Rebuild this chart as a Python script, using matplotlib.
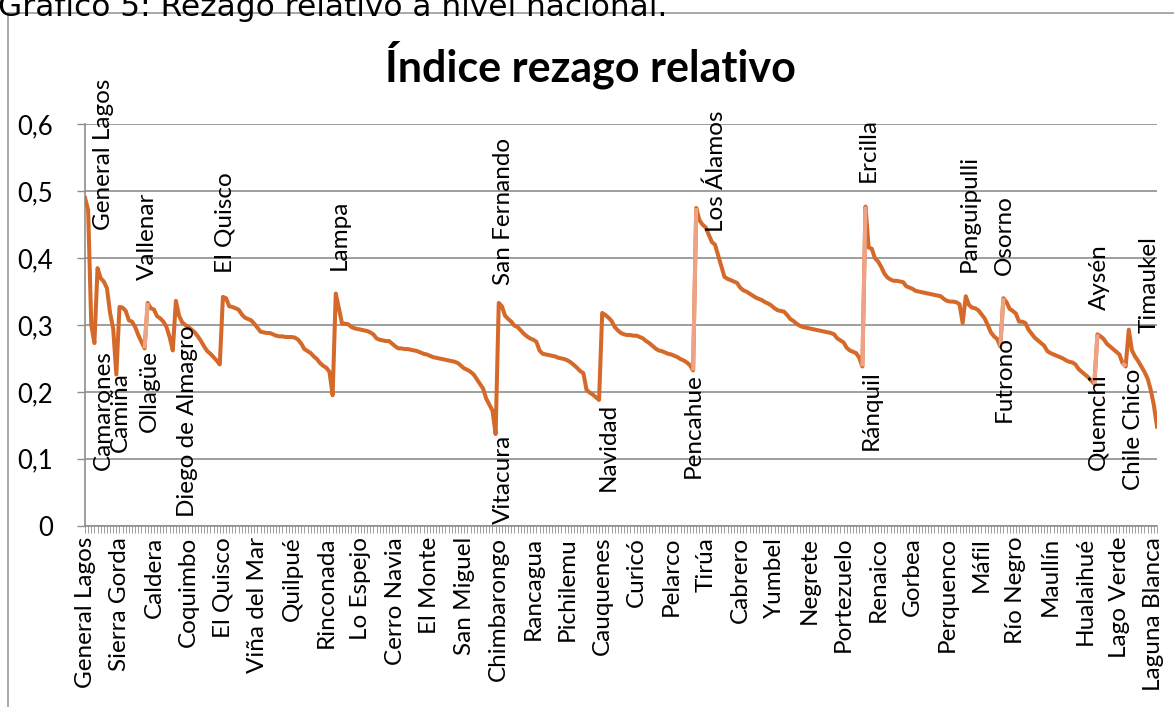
import numpy as np
import matplotlib
matplotlib.use("Agg")
import matplotlib.pyplot as plt
from matplotlib.lines import Line2D

# valores del indice por region (ordenados dentro de cada region)
arica = [0.490, 0.472, 0.300, 0.273]
tarapaca = [0.385, 0.370, 0.365, 0.355, 0.318, 0.294, 0.226]
antofagasta = [0.327, 0.326, 0.321, 0.307, 0.305, 0.297, 0.285, 0.275, 0.265]
atacama = [0.333, 0.325, 0.323, 0.313, 0.310, 0.305, 0.297, 0.282, 0.262]
coquimbo = [0.336, 0.314, 0.304, 0.300, 0.297, 0.293, 0.289, 0.283, 0.276,
            0.268, 0.261, 0.257, 0.252, 0.247, 0.241]
valparaiso = [0.342, 0.340, 0.328, 0.327, 0.325, 0.323, 0.316, 0.311, 0.309,
              0.307, 0.302, 0.296, 0.290, 0.289, 0.288, 0.288, 0.286, 0.284,
              0.283, 0.283, 0.282, 0.282, 0.282, 0.281, 0.278, 0.272, 0.264,
              0.261, 0.258, 0.253, 0.249, 0.243, 0.239, 0.236, 0.230, 0.195]
metropolitana = [0.347, 0.325, 0.302, 0.302, 0.301, 0.297, 0.295, 0.294, 0.293,
                 0.292, 0.291, 0.289, 0.286, 0.280, 0.278, 0.277, 0.276, 0.276,
                 0.272, 0.268, 0.265, 0.265, 0.264, 0.264, 0.263, 0.262, 0.261,
                 0.259, 0.257, 0.256, 0.254, 0.252, 0.251, 0.250, 0.249, 0.248,
                 0.247, 0.246, 0.245, 0.243, 0.239, 0.235, 0.233, 0.230, 0.226,
                 0.219, 0.212, 0.205, 0.190, 0.181, 0.172, 0.137]
ohiggins = [0.333, 0.328, 0.314, 0.309, 0.305, 0.299, 0.297, 0.292, 0.287,
            0.283, 0.280, 0.278, 0.275, 0.262, 0.257, 0.256, 0.255, 0.254,
            0.253, 0.251, 0.250, 0.249, 0.247, 0.244, 0.240, 0.236, 0.231,
            0.228, 0.203, 0.199, 0.196, 0.192, 0.188]
maule = [0.318, 0.315, 0.311, 0.306, 0.297, 0.292, 0.288, 0.286, 0.285, 0.285,
         0.284, 0.284, 0.282, 0.280, 0.276, 0.273, 0.269, 0.265, 0.262, 0.261,
         0.259, 0.257, 0.256, 0.254, 0.252, 0.249, 0.247, 0.244, 0.240, 0.232]
biobio = [0.475, 0.457, 0.450, 0.446, 0.435, 0.424, 0.420, 0.404, 0.388, 0.372,
          0.369, 0.367, 0.365, 0.363, 0.356, 0.352, 0.350, 0.347, 0.344, 0.341,
          0.339, 0.337, 0.334, 0.332, 0.329, 0.325, 0.322, 0.321, 0.320, 0.315,
          0.309, 0.306, 0.302, 0.299, 0.297, 0.296, 0.295, 0.294, 0.293, 0.292,
          0.291, 0.290, 0.289, 0.288, 0.286, 0.280, 0.277, 0.274, 0.266, 0.262,
          0.260, 0.258, 0.251, 0.238]
araucania = [0.477, 0.416, 0.414, 0.400, 0.395, 0.387, 0.377, 0.371, 0.368,
             0.366, 0.366, 0.365, 0.364, 0.358, 0.356, 0.354, 0.351, 0.350,
             0.349, 0.348, 0.347, 0.346, 0.345, 0.344, 0.343, 0.339, 0.336,
             0.335, 0.335, 0.334, 0.331, 0.303]
los_rios = [0.343, 0.330, 0.326, 0.325, 0.322, 0.316, 0.310, 0.300, 0.289,
            0.283, 0.279, 0.268]
los_lagos = [0.340, 0.334, 0.324, 0.321, 0.317, 0.305, 0.305, 0.303, 0.293,
             0.287, 0.281, 0.277, 0.273, 0.269, 0.261, 0.258, 0.256, 0.254,
             0.252, 0.250, 0.247, 0.245, 0.244, 0.241, 0.234, 0.230, 0.226,
             0.222, 0.217, 0.212]
aysen = [0.286, 0.283, 0.279, 0.272, 0.268, 0.264, 0.260, 0.256, 0.243, 0.238]
magallanes = [0.293, 0.262, 0.253, 0.246, 0.238, 0.230, 0.220, 0.203, 0.180, 0.148]

regiones = [arica, tarapaca, antofagasta, atacama, coquimbo, valparaiso,
            metropolitana, ohiggins, maule, biobio, araucania, los_rios,
            los_lagos, aysen, magallanes]
values = np.concatenate([np.array(r) for r in regiones])
n = len(values)

# etiquetas del eje x (una cada 11 comunas)
tick_labels = ["General Lagos", "Sierra Gorda", "Caldera", "Coquimbo", "El Quisco",
               "Viña del Mar", "Quilpué", "Rinconada", "Lo Espejo", "Cerro Navia",
               "El Monte", "San Miguel", "Chimbarongo", "Rancagua", "Pichilemu",
               "Cauquenes", "Curicó", "Pelarco", "Tirúa", "Cabrero", "Yumbel",
               "Negrete", "Portezuelo", "Renaico", "Gorbea", "Perquenco", "Máfil",
               "Río Negro", "Maullín", "Hualaihué", "Lago Verde", "Laguna Blanca"]
tick_step = 11

# etiquetas de datos: maximos y minimos de cada region
top_names = ["General Lagos", "Vallenar", "El Quisco", "Lampa", "San Fernando",
             "Los Álamos", "Ercilla", "Panguipulli", "Osorno", "Aysén", "Timaukel"]
top_idx = [0, 20, 44, 80, 132, 195, 249, 281, 293, 323, 333]
bottom_names = ["Camarones", "Camiña", "Ollagüe", "Diego de Almagro", "Vitacura",
                "Navidad", "Pencahue", "Ránquil", "Futrono", "Quemchi", "Chile Chico"]
bottom_idx = [3, 10, 19, 28, 131, 164, 194, 248, 292, 322, 332]
light_idx = [20, 195, 249, 293, 323, 332]

# desplazamientos (pixeles) de las etiquetas
top_off = [(18, -32), (0, 23), (2, 24), (3, 24), (5, 18), (20, -24),
           (3, 25), (3, 24), (1, 23), (2, 24), (20, -3)]
bottom_off = [(9, -7), (4, 2), (5, -2), (15, 25), (8, -1), (9, -3),
              (0, -3), (9, -4), (4, 10), (4, 11), (8, -2)]

W, H = 1174, 707
fig = plt.figure(figsize=(W / 100, H / 100), dpi=100)
font = "Lato"
dark = "#D4692A"
light = "#F0A384"
grid = "#8E8E8E"

fig.text(-2 / W, 1 - 16 / H, "Gráfico 5: Rezago relativo a nivel nacional.",
         fontsize=22.5, family="DejaVu Sans", ha="left", va="baseline")
fig.add_artist(Line2D([8 / W, 8 / W], [0, 1 - 13 / H], color="#9A9A9A", lw=1.2))
fig.add_artist(Line2D([8 / W, 1], [1 - 13 / H, 1 - 13 / H], color="#9A9A9A", lw=1.2))

x0, x1 = 85, 1157
y0, y1 = 525.7, 124.3
ax = fig.add_axes([x0 / W, 1 - y0 / H, (x1 - x0) / W, (y0 - y1) / H])
ax.set_xlim(0, n - 1)
ax.set_ylim(0, 0.6)

x = np.arange(n)
ax.plot(x, values, color=dark, lw=2.9, solid_joinstyle="round", zorder=3)
for i in light_idx:
    ax.plot([i - 1, i], [values[i - 1], values[i]], color=light, lw=2.9,
            solid_capstyle="butt", zorder=4)

yt = [0, 0.1, 0.2, 0.3, 0.4, 0.5, 0.6]
ax.set_yticks(yt)
ax.set_yticklabels(["0" if v == 0 else ("%.1f" % v).replace(".", ",") for v in yt],
                   fontsize=18.5, family=font)
ax.yaxis.grid(True, color=grid, lw=1.2)
ax.set_axisbelow(True)
ax.tick_params(axis="y", length=6, width=1.0, color=grid, pad=17)

ax.set_xticks(x)
labels = [""] * n
for k, name in enumerate(tick_labels):
    labels[k * tick_step] = name
ax.set_xticklabels(labels, rotation=90, fontsize=17.5, family=font)
ax.tick_params(axis="x", length=5, width=0.6, color=grid, pad=3)

for s in ["top", "right"]:
    ax.spines[s].set_visible(False)
for s in ["left", "bottom"]:
    ax.spines[s].set_color(grid)
    ax.spines[s].set_linewidth(1.2)

for name, i, (dx, dy) in zip(top_names, top_idx, top_off):
    ax.annotate(name, (i, values[i]), xytext=(dx, dy), textcoords="offset pixels",
                rotation=90, ha="center", va="bottom", fontsize=17.5, family=font,
                zorder=5)
for name, i, (dx, dy) in zip(bottom_names, bottom_idx, bottom_off):
    ax.annotate(name, (i, values[i]), xytext=(dx, dy), textcoords="offset pixels",
                rotation=90, ha="center", va="top", fontsize=17.5, family=font,
                zorder=5)

fig.text(590 / W, 1 - 65 / H, "Índice rezago relativo", fontsize=31,
         family=font, weight="bold", ha="center", va="center")

fig.savefig("out.png", dpi=100)
